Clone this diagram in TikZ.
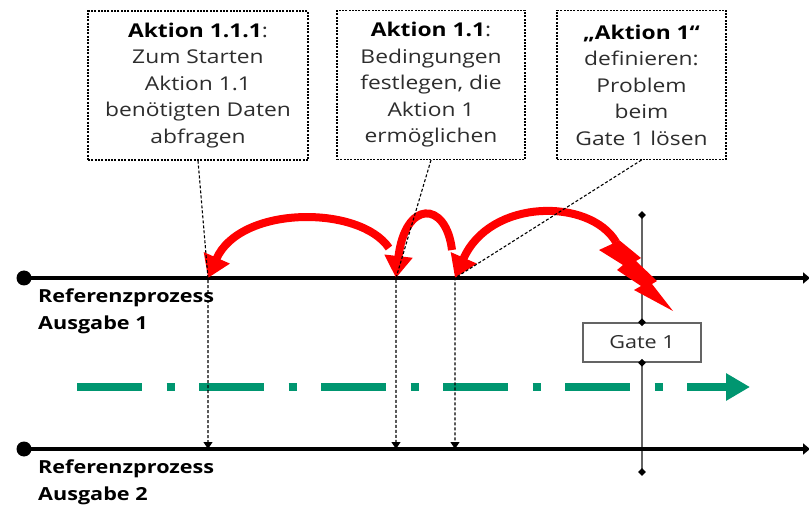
\documentclass[tikz,border=0pt]{standalone}
\usepackage{fontspec}
\setmainfont{Open Sans}[FakeStretch=1.2]
\usetikzlibrary{arrows.meta,shapes.geometric}

\definecolor{flowgreen}{RGB}{0,150,112}
\definecolor{notetext}{RGB}{45,45,45}
\definecolor{gategray}{RGB}{100,100,100}

\begin{document}
\begin{tikzpicture}[x=1pt,y=-1pt,
  note/.style={draw=black, dash pattern=on 2pt off 1.3pt, line width=1.1pt,
    fill=white, minimum height=149pt, align=center, inner sep=0pt,
    font=\fontsize{19}{26.5}\selectfont, text=notetext},
  proc/.style={line width=4.5pt, -{Triangle[length=7pt,width=11pt]}},
  startdot/.style={circle, fill=black, inner sep=0pt, minimum size=15pt},
  conn/.style={line width=1.1pt, dash pattern=on 3pt off 2pt,
    -{Triangle[length=7pt,width=9pt]}},
  jump/.style={red, line width=8pt, -{Triangle[length=22pt,width=27pt]}},
  gatemark/.style={diamond, fill=black, inner sep=0pt, minimum size=8pt},
  gatebox/.style={draw=gategray, line width=1.5pt, fill=white,
    minimum width=118pt, minimum height=39pt, inner sep=0pt,
    font=\fontsize{18}{20}\selectfont, text=notetext},
  plabel/.style={anchor=north west, inner sep=0pt, align=left,
    font=\fontsize{18}{27}\selectfont\bfseries}
]
\useasboundingbox (0,0) rectangle (809,505);

% explanatory notes
\node[note, minimum width=220pt] (n1) at (198,85.5)
  {{\bfseries\color{black}Aktion 1.1.1}:\\Zum Starten\\Aktion 1.1\\benötigten Daten\\abfragen};
\node[note, minimum width=188pt] (n2) at (431,85)
  {{\bfseries\color{black}Aktion 1.1}:\\Bedingungen\\festlegen, die\\Aktion 1\\ermöglichen};
\node[note, minimum width=169pt] (n3) at (641.5,85)
  {{\bfseries\color{black}„Aktion 1“}\\definieren:\\Problem\\beim\\Gate 1 lösen};

% gate
\coordinate (gtop) at (642,215);
\coordinate (gbot) at (642,472);
\draw[gategray, line width=2pt] (gtop) -- (gbot);
\node[gatebox] (gate) at (642,342.5) {Gate 1};
\node[gatemark] (m1) at (gtop) {};
\node[gatemark] (m2) at (gbot) {};
\node[gatemark] (m3) at (gate.north) {};
\node[gatemark] (m4) at (gate.south) {};

% process lines
\node[startdot] (s1) at (24,278) {};
\node[startdot] (s2) at (24,449) {};
\coordinate (e1) at (810,278);
\coordinate (e2) at (810,449);
\draw[proc] (s1.center) -- (e1);
\draw[proc] (s2.center) -- (e2);
\node[plabel] (l1) at (38,289) {Referenzprozess\\Ausgabe 1};
\node[plabel] (l2) at (38,460) {Referenzprozess\\Ausgabe 2};

% flow direction
\coordinate (f0) at (77,387);
\coordinate (f1) at (750,387);
\draw[flowgreen, line width=8pt, dash pattern=on 65pt off 24.5pt on 8pt off 24.5pt,
  -{Triangle[length=24pt,width=26pt]}] (f0) -- (f1);

% action points on line 1 and 2
\coordinate (a1) at (208,278);
\coordinate (a2) at (396,278);
\coordinate (a3) at (455,278);
\coordinate (b1) at (208,449);
\coordinate (b2) at (396,449);
\coordinate (b3) at (455,449);

% backward jumps
\draw[jump] (389,248) .. controls (360,205) and (240,205) .. (a1);
\draw[jump] (452,250) .. controls (446,200) and (405,200) .. (a2);
\coordinate (z0) at (616,242);
\draw[jump] (z0) .. controls (590,198) and (490,198) .. (a3);
% lightning bolt at the gate
\fill[red] (619,240) -- (641,258) -- (636,261) -- (657,281) -- (652,284)
  -- (673,311) -- (634,290) -- (641,286) -- (617,270) -- (623,265)
  -- (599,250) -- (612,244) -- cycle;

% connectors from notes
\draw[conn] (n1.south) -- (a1) -- (b1);
\draw[conn] (n2.south) -- (a2) -- (b2);
\draw[conn] (n3.south) -- (a3) -- (b3);
\end{tikzpicture}
\end{document}
